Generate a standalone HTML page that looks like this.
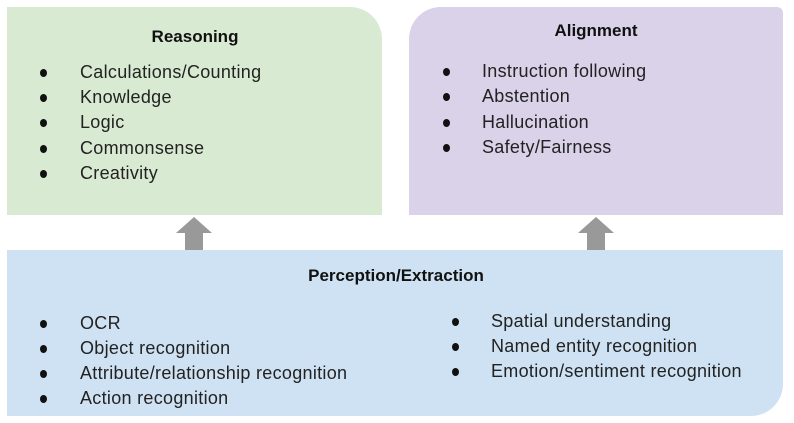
<!DOCTYPE html>
<html><head><style>
body{margin:0;width:794px;height:423px;background:#fff;position:relative;font-family:"Liberation Sans",Arial,sans-serif;overflow:hidden}
.b{position:absolute}
.t{position:absolute;font-size:18px;letter-spacing:0.3px;color:#222;white-space:nowrap;line-height:20px}
.h{position:absolute;font-size:17px;font-weight:bold;color:#111;white-space:nowrap;line-height:20px;transform:translateX(-50%)}
.d{position:absolute;width:7px;height:8px;border-radius:50%;background:#111}
</style></head><body>
<div class="b" style="left:7px;top:7px;width:375px;height:208px;background:#d9ead3;border-top-right-radius:32px"></div>
<div class="b" style="left:409px;top:7px;width:374px;height:208px;background:#d9d2e9;border-top-left-radius:32px;border-top-right-radius:6px"></div>
<div class="b" style="left:7px;top:250px;width:776px;height:166px;background:#cfe2f3;border-bottom-right-radius:32px"></div>
<svg class="b" style="left:0;top:0" width="794" height="423">
<polygon points="194,217 212,233 203,233 203,250 185,250 185,233 176,233" fill="#999"/>
<polygon points="596,217 614,233 605,233 605,250 587,250 587,233 578,233" fill="#999"/>
</svg>
<div class="h" style="left:195px;top:27px">Reasoning</div>
<div class="h" style="left:596px;top:21px">Alignment</div>
<div class="h" style="left:396px;top:266px">Perception/Extraction</div>

<div class="d" style="left:40px;top:69px"></div><div class="t" style="left:80px;top:62px">Calculations/Counting</div>
<div class="d" style="left:40px;top:94px"></div><div class="t" style="left:80px;top:87px">Knowledge</div>
<div class="d" style="left:40px;top:119px"></div><div class="t" style="left:80px;top:112px">Logic</div>
<div class="d" style="left:40px;top:145px"></div><div class="t" style="left:80px;top:138px">Commonsense</div>
<div class="d" style="left:40px;top:170px"></div><div class="t" style="left:80px;top:163px">Creativity</div>

<div class="d" style="left:443px;top:68px"></div><div class="t" style="left:482px;top:61px">Instruction following</div>
<div class="d" style="left:443px;top:93px"></div><div class="t" style="left:482px;top:86px">Abstention</div>
<div class="d" style="left:443px;top:119px"></div><div class="t" style="left:482px;top:112px">Hallucination</div>
<div class="d" style="left:443px;top:144px"></div><div class="t" style="left:482px;top:137px">Safety/Fairness</div>

<div class="d" style="left:40px;top:320px"></div><div class="t" style="left:80px;top:313px">OCR</div>
<div class="d" style="left:40px;top:345px"></div><div class="t" style="left:80px;top:338px">Object recognition</div>
<div class="d" style="left:40px;top:370px"></div><div class="t" style="left:80px;top:363px">Attribute/relationship recognition</div>
<div class="d" style="left:40px;top:395px"></div><div class="t" style="left:80px;top:388px">Action recognition</div>

<div class="d" style="left:452px;top:318px"></div><div class="t" style="left:491px;top:311px">Spatial understanding</div>
<div class="d" style="left:452px;top:343px"></div><div class="t" style="left:491px;top:336px">Named entity recognition</div>
<div class="d" style="left:452px;top:368px"></div><div class="t" style="left:491px;top:361px">Emotion/sentiment recognition</div>
</body></html>
